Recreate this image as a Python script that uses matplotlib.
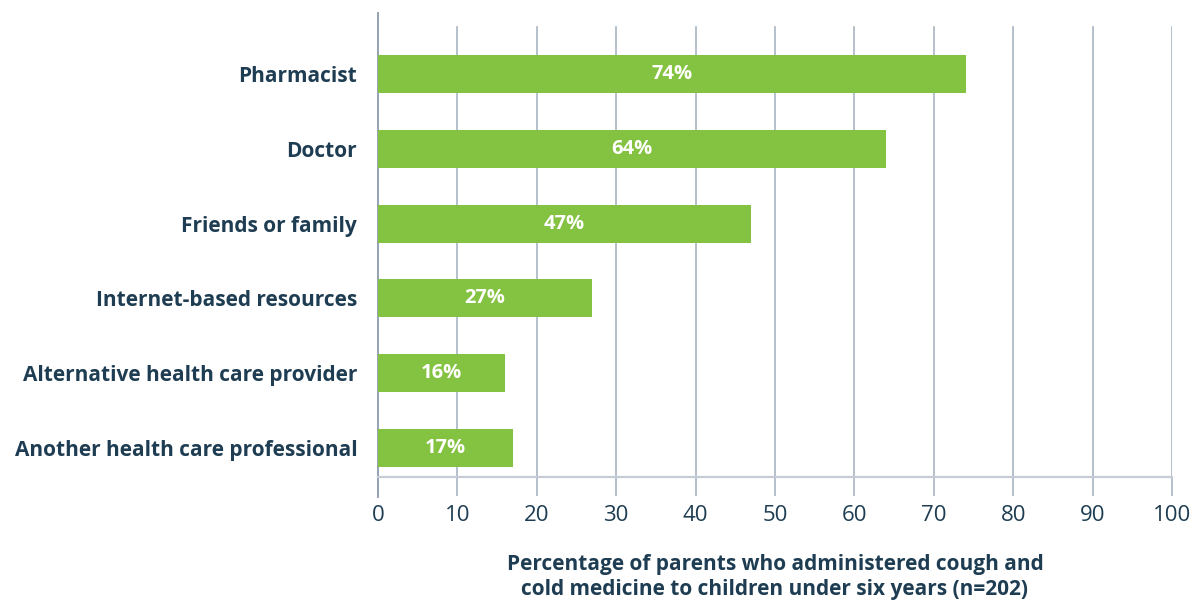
import numpy as np
import matplotlib.pyplot as plt

sources = ['Pharmacist', 'Doctor', 'Friends or family', 'Internet-based resources',
           'Alternative health care provider', 'Another health care professional']
percents = [74, 64, 47, 27, 16, 17]
xticks = [0, 10, 20, 30, 40, 50, 60, 70, 80, 90, 100]

green = '#84c241'
navy = '#1e3d52'

plt.rcParams['font.family'] = ['Open Sans', 'DejaVu Sans']

fig = plt.figure(figsize=(11.95, 6), dpi=100)
ax = fig.add_axes([0.3163, 0.205, 0.6644, 0.7733])

y = np.arange(len(sources))
ax.barh(y, percents, height=0.51, color=green, zorder=3)
for yi, v in zip(y, percents):
    ax.text(v / 2, yi, f'{v}%', ha='center', va='center', color='white',
            fontsize=14.5, fontweight='bold', zorder=4)

ax.set_xlim(0, 100)
ax.set_ylim(5.388, -0.816)

# vertical grid, starting a little below the top of the left spine
for t in xticks[1:]:
    ax.axvline(t, ymin=0, ymax=0.97, color='#a9b4c3', lw=1.2, zorder=1)

ax.set_yticks(y)
ax.set_yticklabels(sources, fontsize=15, fontweight='bold', color=navy)
ax.tick_params(axis='y', length=0, pad=15)

ax.set_xticks(xticks)
ax.set_xticklabels([str(t) for t in xticks], fontsize=16, color=navy)
ax.tick_params(axis='x', length=14, width=1.2, color='#a9b4c3', pad=6)

for s in ['top', 'right']:
    ax.spines[s].set_visible(False)
ax.spines['left'].set_color('#95a2b4')
ax.spines['left'].set_linewidth(1.4)
ax.spines['left'].set_bounds(-0.816, 5.65)
ax.spines['bottom'].set_color('#c5ccd5')
ax.spines['bottom'].set_linewidth(1.6)

ax.set_xlabel('Percentage of parents who administered cough and\n'
              'cold medicine to children under six years (n=202)',
              fontsize=15, fontweight='bold', color=navy, labelpad=20,
              linespacing=1.3)

fig.savefig('out.png', dpi=100)
